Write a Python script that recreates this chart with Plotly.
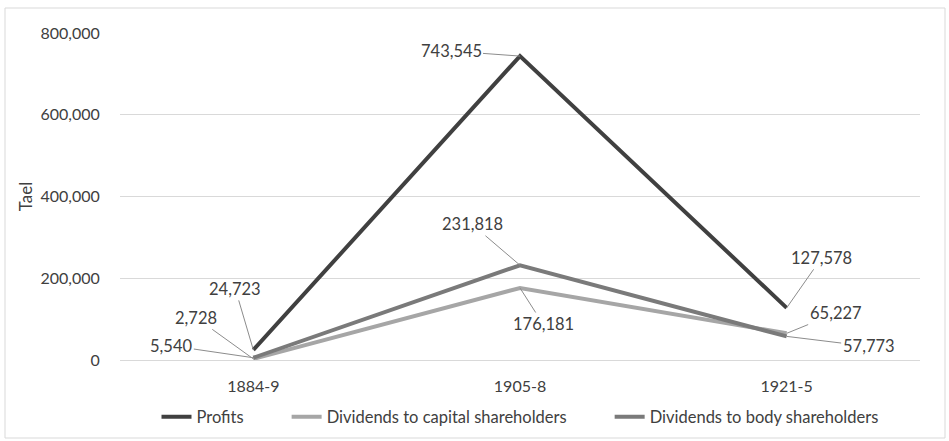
import plotly.graph_objects as go

categories = ["1884-9", "1905-8", "1921-5"]
profits = [24723, 743545, 127578]
capital_div = [2728, 176181, 65227]
body_div = [5540, 231818, 57773]
tick_vals = [0, 200000, 400000, 600000, 800000]
series_names = ["Profits", "Dividends to capital shareholders",
                "Dividends to body shareholders"]

FONT = "Lato"
TXT = "#404040"
PAD = "\u00a0" * 9

fig = go.Figure()
fig.add_trace(go.Scatter(x=categories, y=profits, mode="lines",
                         name=series_names[0] + PAD,
                         line=dict(color="#404040", width=4)))
fig.add_trace(go.Scatter(x=categories, y=capital_div, mode="lines",
                         name=series_names[1] + PAD,
                         line=dict(color="#a6a6a6", width=4)))
fig.add_trace(go.Scatter(x=categories, y=body_div, mode="lines",
                         name=series_names[2],
                         line=dict(color="#7a7a7a", width=4)))

# label offsets (pixels) for the data labels with leader lines
labels = [
    (categories[0], profits[0], -18, -61),
    (categories[0], capital_div[0], -57, -41),
    (categories[0], body_div[0], -82, -12),
    (categories[1], profits[1], -69, -5),
    (categories[1], body_div[1], -48, -41),
    (categories[1], capital_div[1], 23, 36),
    (categories[2], profits[2], 35, -50),
    (categories[2], capital_div[2], 49, -20),
    (categories[2], body_div[2], 82, 10),
]
for x, y, ax, ay in labels:
    fig.add_annotation(x=x, y=y, text=f"{y:,}", showarrow=True, arrowhead=0,
                       arrowwidth=1, arrowcolor="#8c8c8c", ax=ax, ay=ay,
                       font=dict(family=FONT, size=16.5, color=TXT), standoff=0)

# chart border
fig.add_shape(type="rect", xref="paper", yref="paper",
              x0=(5 - 120) / 800, x1=(945 - 120) / 800,
              y0=(360 - 438) / 327, y1=(360 - 8) / 327,
              line=dict(color="#d9d9d9", width=1), layer="below")

fig.update_layout(
    width=949, height=441,
    margin=dict(l=120, r=29, t=33, b=81, autoexpand=False),
    paper_bgcolor="white", plot_bgcolor="white",
    font=dict(family=FONT, size=16, color=TXT),
    showlegend=True,
    legend=dict(orientation="h", x=0.5, xanchor="center",
                yref="container", y=(441 - 417) / 441, yanchor="middle",
                font=dict(family=FONT, size=16.5, color=TXT)),
    xaxis=dict(type="category", range=[-0.5, 2.5], showgrid=False,
               showline=False, ticks="outside", ticklen=12,
               tickcolor="rgba(0,0,0,0)", tickfont=dict(size=16, color=TXT),
               automargin=False),
    yaxis=dict(range=[0, 800000], tickvals=tick_vals, tickformat=",",
               showgrid=True, gridcolor="#d9d9d9", gridwidth=1,
               zeroline=True, zerolinecolor="#d9d9d9", zerolinewidth=1,
               ticks="outside", ticklen=16, tickcolor="rgba(0,0,0,0)",
               title=dict(text="Tael", font=dict(size=17, color=TXT), standoff=3),
               tickfont=dict(size=16, color=TXT), automargin=False),
)

fig.write_html("out.html")
